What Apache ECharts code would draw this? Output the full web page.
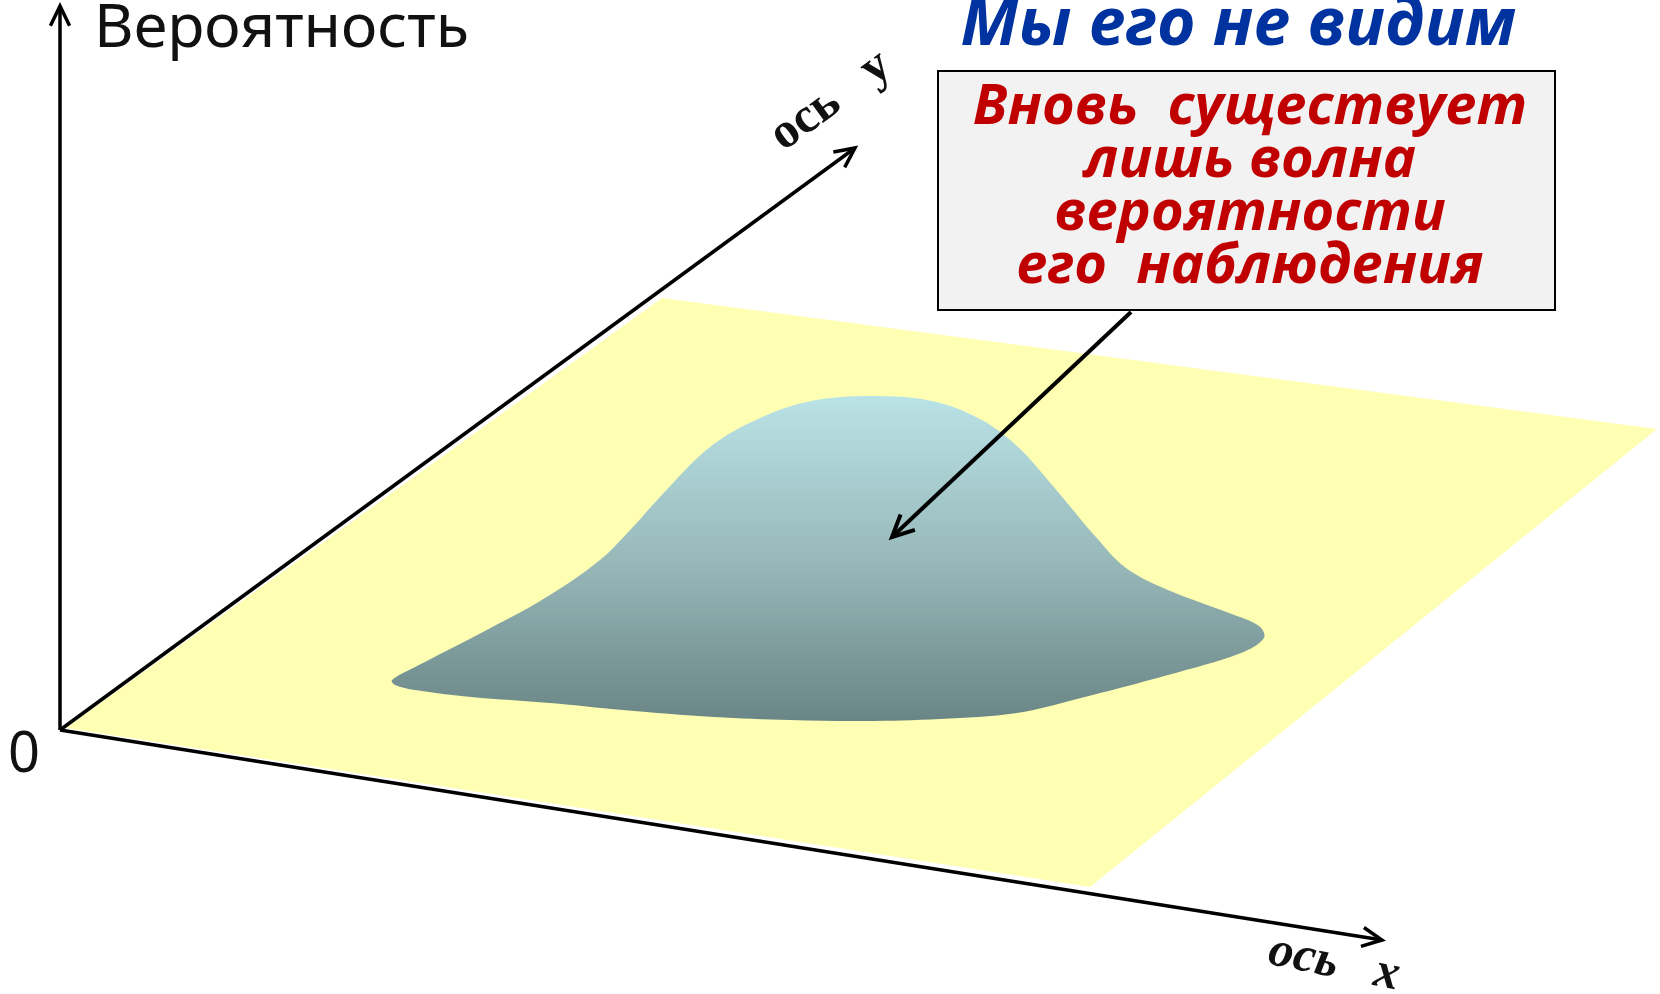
<!DOCTYPE html>
<html>
<head>
<meta charset="utf-8">
<title>Волна вероятности</title>
<script src="https://cdn.jsdelivr.net/npm/echarts@6/dist/echarts.min.js"></script>
<style>
  html, body { margin: 0; padding: 0; background: #fff; }
  #chart { width: 1660px; height: 994px; }
</style>
</head>
<body>
<div id="chart"></div>
<script>
// оси: начало и конец каждой стрелки [x1, y1, x2, y2]
var axisArrows = [
  [60, 730, 60, 6],      // вероятность
  [60, 730, 855, 148],   // ось y
  [60, 730, 1382, 940]   // ось x
];
// стрелка от подписи к волне
var pointerArrow = [[1131, 312, 892, 537]];
// жёлтая плоскость xy
var planeCorners = [[66, 728], [662, 298], [1657, 429], [1090, 887]];
// контур "горба" волны вероятности
var bellOutline = [
  [392, 680], [423, 663], [483, 632], [545, 598], [600, 560], [632, 528],
  [660, 497], [710, 447], [760, 418], [811, 401], [871, 396], [932, 401],
  [980, 419], [1017, 446], [1053, 486], [1095, 536], [1126, 568],
  [1168, 590], [1229, 613], [1259, 626], [1264, 638], [1241, 653],
  [1168, 675], [1077, 699], [1017, 713], [940, 719], [865, 721],
  [790, 720], [714, 717], [623, 710], [550, 703], [471, 697], [415, 690], [395, 685]
];
// тексты
var titleText = 'Мы его не видим';
var boxLines = ['Вновь  существует', 'лишь волна', 'вероятности', 'его  наблюдения'];
var axisLabels = ['Вероятность', 'ось   y', 'ось   x', '0'];

var myChart = echarts.init(document.getElementById('chart'));

function arrowItem(width, head) {
  return function (params, api) {
    var p1 = api.coord([api.value(0), api.value(1)]);
    var p2 = api.coord([api.value(2), api.value(3)]);
    var ang = Math.atan2(p2[1] - p1[1], p2[0] - p1[0]);
    var a1 = ang + Math.PI - 0.45, a2 = ang + Math.PI + 0.45;
    return {
      type: 'group',
      children: [{
        type: 'line',
        shape: { x1: p1[0], y1: p1[1], x2: p2[0], y2: p2[1] },
        style: { stroke: '#000', lineWidth: width }
      }, {
        type: 'polyline',
        shape: {
          points: [
            [p2[0] + head * Math.cos(a1), p2[1] + head * Math.sin(a1)],
            p2,
            [p2[0] + head * Math.cos(a2), p2[1] + head * Math.sin(a2)]
          ]
        },
        style: { stroke: '#000', lineWidth: width, fill: null, lineJoin: 'miter' }
      }]
    };
  };
}

function polygonItem(points, style, smooth) {
  return function (params, api) {
    return {
      type: 'polygon',
      shape: {
        points: points.map(function (p) { return api.coord(p); }),
        smooth: smooth
      },
      style: style
    };
  };
}

var option = {
  animation: false,
  grid: { left: 0, right: 0, top: 0, bottom: 0 },
  xAxis: { type: 'value', min: 0, max: 1660, show: false },
  yAxis: { type: 'value', min: 0, max: 994, inverse: true, show: false },
  series: [{
    // плоскость
    type: 'custom',
    data: [[0, 0]],
    renderItem: polygonItem(planeCorners, { fill: '#ffffb3' }, 0),
    z: 1
  }, {
    // волна
    type: 'custom',
    data: [[0, 0]],
    renderItem: polygonItem(bellOutline, {
      fill: new echarts.graphic.LinearGradient(0, 0, 0, 1, [
        { offset: 0, color: '#bae3e7' },
        { offset: 0.5, color: '#98b9ba' },
        { offset: 1, color: '#6a8585' }
      ])
    }, 0.35),
    z: 2
  }, {
    // оси
    type: 'custom',
    data: axisArrows,
    renderItem: arrowItem(3.5, 22),
    z: 3
  }, {
    // указатель
    type: 'custom',
    data: pointerArrow,
    renderItem: arrowItem(4, 24),
    z: 5
  }],
  graphic: [{
    type: 'text',
    x: 94, y: 30,
    style: {
      text: axisLabels[0], font: '61px "Noto Sans"', fill: '#111',
      verticalAlign: 'middle'
    }
  }, {
    type: 'text',
    x: 831, y: 101, rotation: 0.63,
    style: {
      text: axisLabels[1], font: 'bold 50px "Liberation Serif"', fill: '#111',
      align: 'center', verticalAlign: 'middle'
    }
  }, {
    type: 'text',
    x: 1334, y: 964, rotation: -0.2,
    style: {
      text: axisLabels[2], font: 'italic bold 50px "Liberation Serif"', fill: '#111',
      align: 'center', verticalAlign: 'middle'
    }
  }, {
    type: 'text',
    x: 24, y: 756,
    style: {
      text: axisLabels[3], font: '56px "Noto Sans"', fill: '#111',
      align: 'center', verticalAlign: 'middle'
    }
  }, {
    type: 'text',
    x: 1238, y: 26,
    style: {
      text: titleText, font: 'italic bold 66px "Open Sans"', fill: '#0033a0',
      align: 'center', verticalAlign: 'middle'
    }
  }, {
    type: 'rect',
    shape: { x: 938, y: 71, width: 617, height: 239 },
    style: { fill: '#f2f2f2', stroke: '#000', lineWidth: 2 },
    z: 4
  }, {
    type: 'text',
    x: 1250, y: 188,
    z: 6,
    style: {
      text: boxLines.join('\n'), font: 'italic bold 56px "Open Sans"', fill: '#c00000',
      align: 'center', verticalAlign: 'middle', lineHeight: 53
    }
  }]
};

myChart.setOption(option);
window.addEventListener('resize', function () {
  myChart.resize();
});
</script>
</body>
</html>
